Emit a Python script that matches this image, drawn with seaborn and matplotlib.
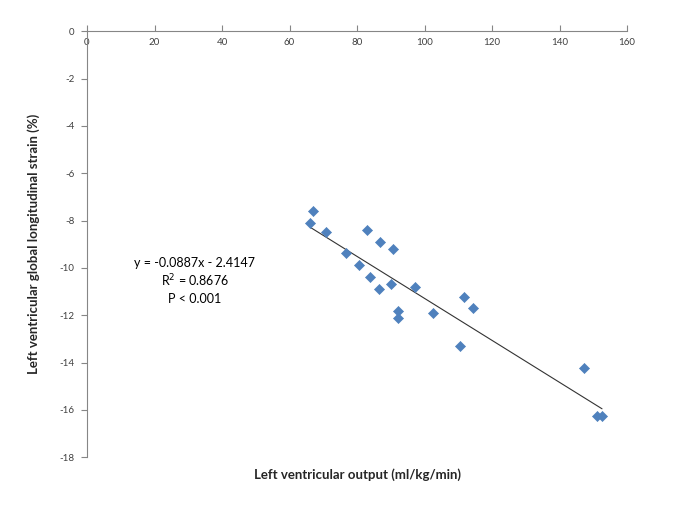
import numpy as np
import pandas as pd
import matplotlib
matplotlib.use("Agg")
import matplotlib.pyplot as plt
import seaborn as sns

# values
lv_output = [67.1, 66.2, 70.9, 82.9, 86.7, 90.8, 76.8, 80.6, 83.9, 90.2, 97.3,
             86.5, 111.6, 114.4, 92.2, 102.5, 92.2, 110.6, 147.3, 151.1, 152.6]
lv_strain = [-7.58, -8.09, -8.47, -8.38, -8.89, -9.20, -9.37, -9.89, -10.39, -10.69, -10.79,
             -10.90, -11.21, -11.69, -11.80, -11.90, -12.11, -13.31, -14.22, -16.24, -16.24]
slope = -0.0887
intercept = -2.4147
eq_lines = ["y = -0.0887x - 2.4147", "R$^2$ = 0.8676", "P < 0.001"]
x_ticks = list(range(0, 161, 20))
y_ticks = list(range(-18, 1, 2))

df = pd.DataFrame({"output": lv_output, "strain": lv_strain})
x_fit = np.array([min(lv_output), max(lv_output)])
fit = pd.DataFrame({"output": x_fit, "strain": slope * x_fit + intercept})

sns.set_style("white")
plt.rcParams["font.family"] = ["Lato", "DejaVu Sans"]
plt.rcParams["axes.unicode_minus"] = False

fig = plt.figure(figsize=(6.85, 5.13), dpi=100)
ax = fig.add_axes([87 / 685, 1 - 457.3 / 513, 540 / 685, 426 / 513])

sns.lineplot(data=fit, x="output", y="strain", color="#333333", linewidth=0.8, ax=ax)
sns.scatterplot(data=df, x="output", y="strain", marker="D", s=26,
                color="#4F81BD", edgecolor="#4F81BD", linewidth=0.5, ax=ax, zorder=3)

ax.set_xlim(0, 160)
ax.set_ylim(-18, 0)
ax.set_xticks(x_ticks)
ax.set_yticks(y_ticks)

# Excel style: x axis crosses at y = 0 (top), labels hanging below it
ax.spines["bottom"].set_position(("data", 0))
ax.spines["top"].set_visible(False)
ax.spines["right"].set_visible(False)
for s in ["bottom", "left"]:
    ax.spines[s].set_color("#868686")
    ax.spines[s].set_linewidth(0.8)
ax.tick_params(axis="x", direction="in", length=4, color="#868686",
               labelsize=7, labelcolor="#404040", pad=5, bottom=True)
ax.tick_params(axis="y", direction="out", length=4, color="#868686",
               labelsize=7, labelcolor="#404040", pad=5, left=True)

ax.set_xlabel("Left ventricular output (ml/kg/min)", fontsize=9.5, fontweight="bold")
ax.xaxis.set_label_coords(0.5, -0.025)
ax.set_ylabel("Left ventricular global longitudinal strain (%)", fontsize=9.5,
              fontweight="bold", labelpad=14)

for txt, ypix in zip(eq_lines, [263, 281, 299]):
    fig.text(195 / 685, 1 - ypix / 513, txt, ha="center", va="center", fontsize=9, color="black")

fig.savefig("out.png", dpi=100)
